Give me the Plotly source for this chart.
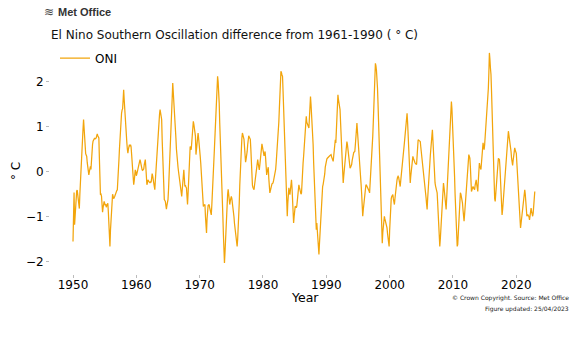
import numpy as np
import pandas as pd
import plotly.graph_objects as go

# Monthly Nino-3.4 anomaly (deg C, vs 1961-1990), one row of 12 months per year,
# series begins January 1950
oni_rows = [
    [-1.55, -1.0, -0.46, -1.18, -0.9, -0.7, -0.55, -0.43, -0.41, -0.55, -0.7, -0.8],
    [-0.82, -0.5, -0.2, 0.1, 0.35, 0.55, 0.75, 0.95, 1.16, 0.95, 0.7, 0.5],
    [0.4, 0.37, 0.34, 0.2, 0.05, -0.05, -0.07, 0.0, 0.07, 0.12, 0.05, 0.3],
    [0.5, 0.6, 0.68, 0.72, 0.74, 0.75, 0.73, 0.74, 0.75, 0.8, 0.84, 0.8],
    [0.78, 0.75, 0.3, -0.2, -0.51, -0.5, -0.54, -0.7, -0.9, -0.8, -0.72, -0.66],
    [-0.7, -0.75, -0.72, -0.79, -0.75, -0.72, -0.7, -0.9, -1.15, -1.4, -1.66, -1.3],
    [-1.0, -0.7, -0.55, -0.5, -0.55, -0.6, -0.58, -0.55, -0.5, -0.47, -0.44, -0.42],
    [-0.4, -0.25, 0.0, 0.25, 0.5, 0.75, 1.04, 1.2, 1.3, 1.37, 1.4, 1.6],
    [1.82, 1.6, 1.35, 1.1, 0.95, 0.82, 0.65, 0.5, 0.41, 0.5, 0.55, 0.6],
    [0.58, 0.6, 0.56, 0.4, 0.2, 0.0, -0.15, -0.29, -0.2, -0.05, 0.04, 0.0],
    [-0.09, -0.05, 0.0, 0.03, 0.06, 0.1, 0.2, 0.27, 0.22, 0.12, 0.06, 0.04],
    [0.03, 0.05, 0.06, 0.15, 0.22, 0.27, 0.1, -0.15, -0.29, -0.25, -0.18, -0.2],
    [-0.22, -0.24, -0.25, -0.22, -0.24, -0.15, -0.04, -0.1, -0.2, -0.28, -0.35, -0.4],
    [-0.2, 0.0, 0.27, 0.45, 0.65, 0.85, 1.0, 1.16, 1.28, 1.38, 1.33, 1.25],
    [1.16, 0.7, 0.2, -0.25, -0.59, -0.62, -0.64, -0.66, -0.75, -0.83, -0.75, -0.68],
    [-0.62, -0.4, -0.15, 0.1, 0.35, 0.6, 0.95, 1.3, 1.65, 1.97, 1.8, 1.55],
    [1.45, 1.3, 1.0, 0.75, 0.5, 0.27, 0.2, 0.1, 0.0, -0.1, -0.18, -0.35],
    [-0.45, -0.5, -0.55, -0.4, -0.25, -0.1, 0.04, -0.15, -0.33, -0.3, -0.34, -0.36],
    [-0.55, -0.73, -0.5, -0.25, 0.04, 0.3, 0.56, 0.52, 0.49, 0.7, 0.9, 1.05],
    [1.12, 1.05, 0.95, 0.85, 0.79, 0.38, 0.5, 0.65, 0.78, 0.86, 0.75, 0.65],
    [0.49, 0.35, 0.2, 0.01, -0.2, -0.4, -0.6, -0.77, -0.75, -0.74, -0.73, -1.0],
    [-1.2, -1.36, -1.05, -0.77, -0.75, -0.74, -0.73, -0.8, -0.87, -0.92, -0.96, -0.75],
    [-0.55, -0.3, -0.05, 0.25, 0.52, 0.79, 1.05, 1.3, 1.55, 1.85, 2.12, 2.0],
    [1.8, 1.53, 1.1, 0.65, 0.2, -0.25, -0.5, -0.7, -1.0, -1.4, -1.75, -2.03],
    [-1.8, -1.45, -1.14, -0.9, -0.65, -0.5, -0.39, -0.5, -0.62, -0.73, -0.65, -0.58],
    [-0.55, -0.6, -0.68, -0.77, -0.85, -1.0, -1.15, -1.28, -1.4, -1.5, -1.6, -1.66],
    [-1.5, -1.3, -1.07, -0.7, -0.3, 0.04, 0.3, 0.55, 0.75, 0.86, 0.8, 0.75],
    [0.72, 0.55, 0.35, 0.21, 0.28, 0.34, 0.45, 0.6, 0.72, 0.8, 0.77, 0.74],
    [0.72, 0.5, 0.1, -0.25, -0.3, -0.35, -0.38, -0.4, -0.3, -0.18, -0.07, 0.05],
    [0.15, 0.22, 0.27, 0.18, 0.08, 0.04, 0.15, 0.28, 0.4, 0.52, 0.62, 0.55],
    [0.45, 0.4, 0.35, 0.4, 0.45, 0.3, 0.1, -0.07, 0.0, 0.05, 0.1, -0.15],
    [-0.35, -0.47, -0.42, -0.35, -0.29, -0.27, -0.26, -0.25, -0.2, -0.15, -0.1, -0.05],
    [0.05, 0.2, 0.35, 0.55, 0.72, 0.9, 1.1, 1.4, 1.7, 2.0, 2.23, 2.2],
    [2.15, 2.12, 1.8, 1.4, 1.0, 0.56, 0.25, -0.05, -0.35, -0.7, -0.99, -0.7],
    [-0.5, -0.36, -0.45, -0.51, -0.4, -0.28, -0.18, -0.35, -0.6, -0.9, -1.14, -1.0],
    [-0.85, -0.77, -0.78, -0.8, -0.77, -0.6, -0.45, -0.35, -0.29, -0.35, -0.42, -0.47],
    [-0.5, -0.47, -0.1, 0.05, 0.2, 0.35, 0.5, 0.7, 0.9, 1.05, 1.23, 1.1],
    [1.05, 1.02, 1.0, 0.97, 1.2, 1.45, 1.67, 1.5, 1.3, 1.15, 1.0, 0.6],
    [0.2, -0.2, -0.55, -0.85, -1.1, -1.29, -1.14, -1.35, -1.6, -1.75, -1.84, -1.6],
    [-1.35, -1.1, -0.9, -0.7, -0.5, -0.33, -0.28, -0.22, -0.18, -0.05, 0.1, 0.2],
    [0.27, 0.28, 0.3, 0.32, 0.33, 0.34, 0.35, 0.36, 0.37, 0.38, 0.33, 0.28],
    [0.25, 0.23, 0.35, 0.5, 0.62, 0.71, 0.64, 0.85, 1.1, 1.4, 1.71, 1.6],
    [1.5, 1.45, 1.38, 1.1, 0.8, 0.5, 0.2, -0.05, -0.25, -0.1, 0.05, 0.2],
    [0.35, 0.5, 0.6, 0.67, 0.6, 0.5, 0.38, 0.25, 0.15, 0.08, 0.1, 0.13],
    [0.16, 0.25, 0.33, 0.41, 0.43, 0.44, 0.45, 0.6, 0.8, 0.95, 1.08, 0.9],
    [0.75, 0.6, 0.49, 0.3, 0.1, -0.1, -0.3, -0.5, -0.7, -0.99, -0.85, -0.7],
    [-0.6, -0.5, -0.4, -0.29, -0.3, -0.32, -0.35, -0.38, -0.4, -0.43, -0.47, -0.3],
    [-0.1, 0.1, 0.3, 0.55, 0.79, 1.1, 1.45, 1.8, 2.1, 2.41, 2.35, 2.25],
    [2.12, 1.85, 1.5, 1.1, 0.7, 0.27, -0.4, -0.9, -1.29, -1.45, -1.59, -1.35],
    [-1.15, -1.05, -0.99, -1.05, -1.1, -1.12, -1.14, -1.25, -1.38, -1.5, -1.6, -1.66],
    [-1.3, -0.95, -0.7, -0.6, -0.55, -0.52, -0.51, -0.6, -0.68, -0.73, -0.6, -0.45],
    [-0.35, -0.25, -0.18, -0.12, -0.1, -0.12, -0.2, -0.28, -0.33, -0.2, -0.05, 0.1],
    [0.2, 0.27, 0.4, 0.52, 0.65, 0.78, 0.9, 1.05, 1.18, 1.3, 1.1, 0.8],
    [0.45, 0.15, -0.05, -0.25, -0.1, 0.05, 0.18, 0.28, 0.34, 0.3, 0.25, 0.2],
    [0.2, 0.18, 0.17, 0.16, 0.35, 0.55, 0.71, 0.7, 0.69, 0.68, 0.67, 0.55],
    [0.45, 0.35, 0.25, 0.12, 0.0, -0.1, -0.2, -0.32, -0.45, -0.58, -0.72, -0.84],
    [-0.6, -0.35, -0.1, 0.05, 0.19, 0.35, 0.5, 0.65, 0.8, 0.93, 0.7, 0.4],
    [0.1, -0.1, -0.25, -0.32, -0.38, -0.43, -0.47, -0.7, -0.95, -1.2, -1.45, -1.66],
    [-1.5, -1.3, -1.1, -0.85, -0.6, -0.4, -0.25, -0.35, -0.45, -0.6, -0.72, -0.84],
    [-0.6, -0.35, -0.1, 0.1, 0.27, 0.5, 0.75, 1.0, 1.3, 1.56, 1.4, 1.15],
    [0.9, 0.71, 0.3, -0.1, -0.5, -0.85, -1.15, -1.45, -1.66, -1.62, -1.3, -1.0],
    [-0.8, -0.6, -0.47, -0.5, -0.55, -0.6, -0.7, -0.85, -1.0, -1.1, -0.95, -0.75],
    [-0.6, -0.51, -0.35, -0.15, 0.05, 0.25, 0.38, 0.34, 0.3, 0.1, -0.15, -0.44],
    [-0.4, -0.36, -0.33, -0.36, -0.38, -0.4, -0.3, -0.22, -0.18, -0.28, -0.38, -0.44],
    [-0.2, 0.0, 0.19, 0.12, 0.08, 0.05, 0.2, 0.35, 0.5, 0.64, 0.55, 0.49],
    [0.6, 0.75, 0.9, 1.05, 1.2, 1.4, 1.6, 1.85, 2.2, 2.64, 2.5, 2.3],
    [2.16, 1.8, 1.3, 0.8, 0.2, -0.3, -0.51, -0.6, -0.66, -0.45, -0.25, -0.05],
    [0.1, 0.22, 0.3, 0.28, 0.27, 0.1, -0.1, -0.35, -0.65, -0.96, -0.85, -0.7],
    [-0.6, -0.51, -0.35, -0.2, -0.05, 0.15, 0.35, 0.55, 0.75, 0.9, 0.82, 0.75],
    [0.71, 0.6, 0.45, 0.3, 0.2, 0.14, 0.25, 0.38, 0.48, 0.53, 0.48, 0.44],
    [0.41, 0.2, 0.0, -0.2, -0.4, -0.6, -0.85, -1.05, -1.25, -1.15, -1.05, -0.95],
    [-0.88, -0.75, -0.6, -0.5, -0.4, -0.5, -0.65, -0.85, -0.99, -0.97, -0.96, -0.98],
    [-1.0, -1.07, -0.95, -0.88, -0.81, -0.88, -0.95, -0.99, -0.92, -0.8, -0.6, -0.44],
]
start_date = "1950-01-01"
x_ticks = [1950, 1960, 1970, 1980, 1990, 2000, 2010, 2020]
y_ticks = [-2, -1, 0, 1, 2]

values = np.array([v for row in oni_rows for v in row])
dates = pd.date_range(start_date, periods=len(values), freq="MS")
dec_year = dates.year + (dates.month - 1) / 12.0

LINE = "#f2a50c"
FONT = "DejaVu Sans, sans-serif"

fig = go.Figure()
fig.add_trace(go.Scatter(x=dec_year, y=values, mode="lines", name="ONI",
                         line=dict(color=LINE, width=1.25)))

L, R, T, B = 50, 559, 43, 274
W, H = 577, 337
pxyr = 6.333
x0 = 1950 - (73.0 - L) / pxyr
x1 = x0 + (R - L) / pxyr
pxu = 45.0
y1 = (171.7 - T) / pxu
y0 = -(B - 171.7) / pxu

fig.update_layout(
    width=W, height=H, autosize=False,
    margin=dict(l=L, r=W - R, t=T, b=H - B, autoexpand=False),
    paper_bgcolor="white", plot_bgcolor="white",
    font=dict(family=FONT, color="#000000", size=12),
    title=dict(text="El Nino Southern Oscillation difference from 1961-1990 ( ° C)",
               x=51 / W, xanchor="left", xref="container",
               y=1 - 35 / H, yanchor="middle", yref="container",
               font=dict(size=12, color="#111111")),
    showlegend=True,
    legend=dict(x=(55 - L) / (R - L), y=(B - 58) / (B - T), xanchor="left", yanchor="middle",
                bgcolor="rgba(0,0,0,0)", font=dict(size=12), borderwidth=0),
    xaxis=dict(range=[x0, x1], tickvals=x_ticks, ticktext=[str(t) for t in x_ticks],
               showgrid=False, zeroline=False, showline=False, automargin=False,
               ticks="outside", ticklen=3, tickcolor="#bbbbbb", ticklabelstandoff=-3,
               tickfont=dict(size=12)),
    yaxis=dict(range=[y0, y1], tickvals=y_ticks,
               ticktext=[str(t).replace("-", "\u2212") for t in y_ticks],
               showgrid=False, zeroline=False, showline=False, automargin=False,
               ticks="outside", ticklen=3, tickcolor="#bbbbbb",
               tickfont=dict(size=12)),
)

def px(xp):
    return (xp - L) / (R - L)

def py(yp):
    return (B - yp) / (B - T)

# axis titles
fig.add_annotation(x=px(304.5), y=py(297), xref="paper", yref="paper", text="Year",
                   showarrow=False, xanchor="center", yanchor="middle",
                   font=dict(size=12.5, color="#000000"))
fig.add_annotation(x=px(16), y=py(171), xref="paper", yref="paper", text="° C",
                   showarrow=False, xanchor="center", yanchor="middle", textangle=-90,
                   font=dict(size=12, color="#000000"))
# header / footer
fig.add_annotation(x=px(42), y=py(12), xref="paper", yref="paper", text="≋",
                   showarrow=False, xanchor="left", yanchor="middle",
                   font=dict(family="DejaVu Sans", size=12, color="#444444"))
fig.add_annotation(x=px(56), y=py(12), xref="paper", yref="paper", text="<b>Met Office</b>",
                   showarrow=False, xanchor="left", yanchor="middle",
                   font=dict(family="Liberation Sans, Arial, sans-serif", size=11, color="#333333"))
fig.add_annotation(x=px(571), y=py(298), xref="paper", yref="paper",
                   text="© Crown Copyright. Source: Met Office",
                   showarrow=False, xanchor="right", yanchor="middle",
                   font=dict(size=6, color="#222222"))
fig.add_annotation(x=px(571), y=py(308.5), xref="paper", yref="paper",
                   text="Figure updated: 25/04/2023",
                   showarrow=False, xanchor="right", yanchor="middle",
                   font=dict(size=6, color="#222222"))

fig.write_html("out.html")
